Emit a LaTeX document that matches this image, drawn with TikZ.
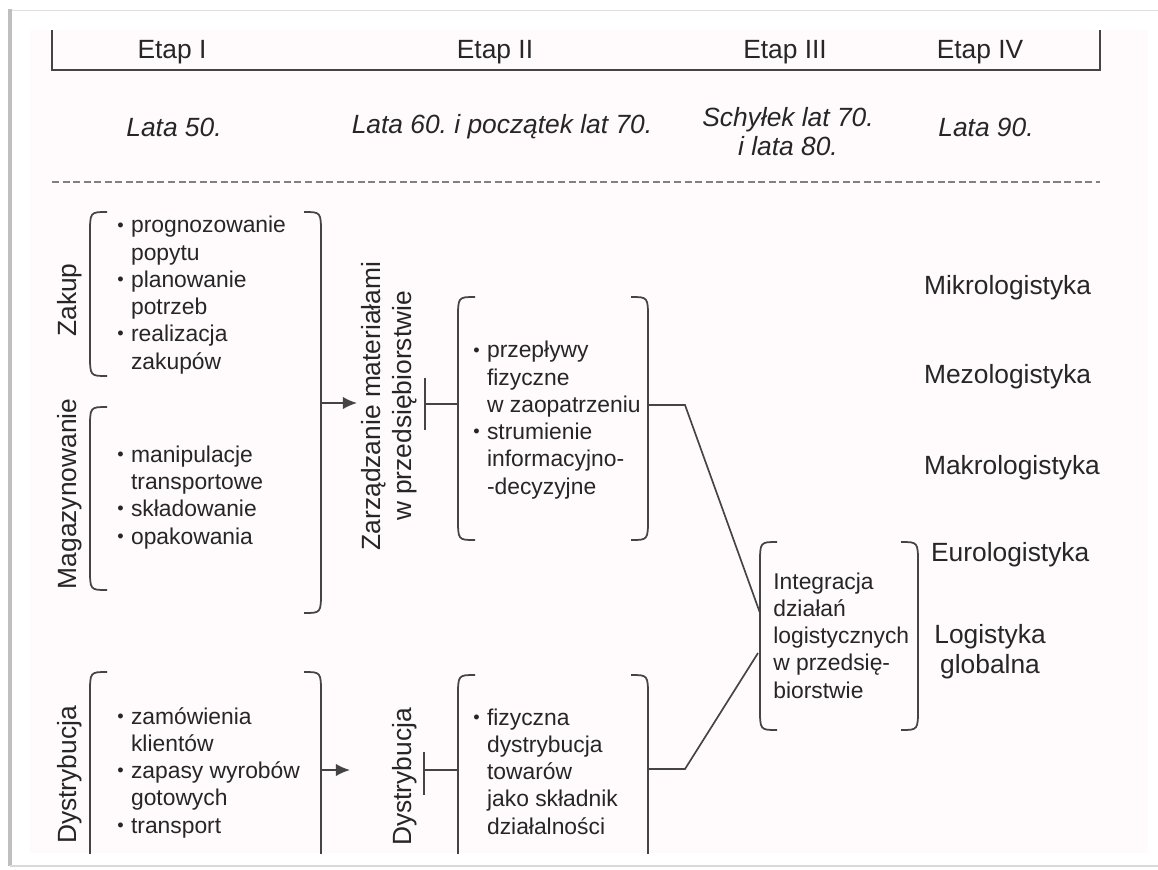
\documentclass[tikz,border=0pt]{standalone}
\usepackage{fontspec}
\setmainfont{Liberation Sans}
\usetikzlibrary{arrows.meta}
\frenchspacing
\definecolor{ink}{HTML}{262626}
\definecolor{rulegray}{HTML}{444444}
\definecolor{paper}{HTML}{FFFAFB}
\newcommand{\pkt}{\makebox[0.6em][l]{\raisebox{0.15ex}{\scalebox{0.8}{\textbullet}}}}
\newcommand{\dal}{\hspace*{0.6em}}
% round brackets: x, top, bottom (pixel units)
\newcommand{\lpar}[3]{\draw[paren] ({#1+17},#2) .. controls (#1,#2) .. (#1,{#2+22}) -- (#1,{#3-22}) .. controls (#1,#3) .. ({#1+17},#3);}
\newcommand{\rpar}[3]{\draw[paren] ({#1-17},#2) .. controls (#1,#2) .. (#1,{#2+22}) -- (#1,{#3-22}) .. controls (#1,#3) .. ({#1-17},#3);}

\begin{document}
\begin{tikzpicture}[x=0.02cm,y=-0.02cm,
  txt/.style={font=\fontsize{13}{15.5}\selectfont,text=ink,align=left,inner sep=0pt,anchor=base west},
  lbl/.style={font=\fontsize{15}{17.5}\selectfont,text=ink,inner sep=1pt},
  lata/.style={lbl,font=\fontsize{15}{16.5}\selectfont\itshape,align=center},
  vlbl/.style={lbl,rotate=90},
  paren/.style={draw=rulegray,line width=1pt},
  conn/.style={draw=rulegray,line width=0.95pt},
  arr/.style={conn,-{Latex[length=8pt,width=7pt]}}]
  \useasboundingbox (0,0) rectangle (1158,869);
  % scanned page
  \fill[white] (0,0) rectangle (1158,869);
  \fill[paper] (30,30) rectangle (1148,853);
  \draw[gray!25,line width=0.5pt] (10,10) -- (1158,10);
  \draw[gray!50,line width=2.2pt] (10,9) -- (10,866);
  \draw[gray!30,line width=0.6pt] (10,866) -- (1158,866);

  % header
  \draw[rulegray,line width=1.3pt] (52,30) -- (52,70) -- (1100,70) -- (1100,30);
  \node[lbl] (etap1) at (172,52) {Etap I};
  \node[lbl] (etap2) at (495,52) {Etap II};
  \node[lbl] (etap3) at (785,52) {Etap III};
  \node[lbl] (etap4) at (980,52) {Etap IV};
  \node[lata] (lata50) at (174,127) {Lata 50.};
  \node[lata] (lata60) at (502,127) {Lata 60. i początek lat 70.};
  \node[lata] (lata80) at (788,132) {Schyłek lat 70.\\i lata 80.};
  \node[lata] (lata90) at (986,127) {Lata 90.};
  \draw[gray,line width=1pt,dash pattern=on 4pt off 2pt] (52,182) -- (1100,182);

  % stage I (text nodes sit on the baseline of their last line)
  \node[vlbl] (zakup) at (70,300) {Zakup};
  \node[vlbl] (magazyn) at (70,494) {Magazynowanie};
  \node[vlbl] (dystr) at (70,775) {Dystrybucja};
  \node[txt] (zakupy) at (117,369) {\pkt prognozowanie\\\dal popytu\\\pkt planowanie\\\dal potrzeb\\\pkt realizacja\\\dal zakupów};
  \node[txt] (skladowe) at (117,544) {\pkt manipulacje\\\dal transportowe\\\pkt składowanie\\\pkt opakowania};
  \node[txt] (zbyt) at (117,833) {\pkt zamówienia\\\dal klientów\\\pkt zapasy wyrobów\\\dal gotowych\\\pkt transport};
  \lpar{90}{212}{376}
  \lpar{90}{407}{590}
  \rpar{321}{212}{613}
  \begin{scope}
    \clip (30,30) rectangle (1148,853);
    \lpar{90}{672}{900}
    \rpar{321}{672}{900}
    \lpar{458}{675}{900}
    \rpar{648}{675}{900}
  \end{scope}

  % stage II
  \node[vlbl,align=center,font=\fontsize{15}{17.6}\selectfont] (zarz) at (389,406) {Zarządzanie materiałami\\w przedsiębiorstwie};
  \node[vlbl] (dystr2) at (405,777) {Dystrybucja};
  \node[txt] (zaop) at (473,494) {\pkt przepływy\\\dal fizyczne\\\dal w zaopatrzeniu\\\pkt strumienie\\\dal informacyjno-\\\dal -decyzyjne};
  \node[txt] (fizdys) at (473,834) {\pkt fizyczna\\\dal dystrybucja\\\dal towarów\\\dal jako składnik\\\dal działalności};
  \lpar{458}{297}{540}
  \rpar{648}{297}{540}

  % stage III
  \node[txt] (integr) at (773,698) {Integracja\\działań\\logistycznych\\w przedsię-\\biorstwie};
  \lpar{760}{542}{730}
  \rpar{918}{542}{730}

  % stage IV
  \node[lbl,anchor=west] (mikro) at (922,288) {Mikrologistyka};
  \node[lbl,anchor=west] (mezo) at (922,377) {Mezologistyka};
  \node[lbl,anchor=west] (makro) at (922,468) {Makrologistyka};
  \node[lbl,anchor=west] (euro) at (929,555) {Eurologistyka};
  \node[lbl,align=center,font=\fontsize{15}{17}\selectfont] (glob) at (990,652) {Logistyka\\globalna};

  % connectors
  \coordinate (grp1R) at (321,403);
  \coordinate (zarzA) at (357,403);
  \coordinate (grp3R) at (321,770);
  \coordinate (dysA) at (350,770);
  \draw[arr] (grp1R) -- (zarzA);
  \draw[arr] (grp3R) -- (dysA);
  \coordinate (tz) at (425,404);
  \coordinate (zaopL) at (458,404);
  \draw[conn] (425,378) -- (425,430);
  \draw[conn] (tz) -- (zaopL);
  \coordinate (td) at (424,770);
  \coordinate (fizL) at (458,770);
  \draw[conn] (424,752) -- (424,795);
  \draw[conn] (td) -- (fizL);
  \coordinate (zaopR) at (648,405);
  \coordinate (zaopK) at (685,405);
  \coordinate (integrA) at (760,613);
  \coordinate (fizR) at (648,769);
  \coordinate (fizK) at (685,769);
  \coordinate (integrB) at (758,653);
  \draw[conn] (zaopR) -- (zaopK) -- (integrA);
  \draw[conn] (fizR) -- (fizK) -- (integrB);
\end{tikzpicture}
\end{document}
